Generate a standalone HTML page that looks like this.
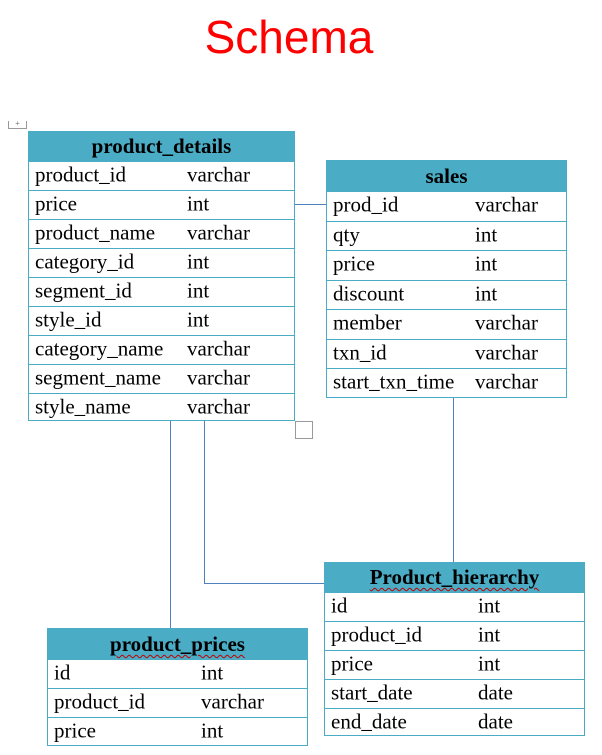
<!DOCTYPE html>
<html><head><meta charset="utf-8"><style>
body{margin:0;width:602px;height:755px;background:#fff;position:relative;overflow:hidden;font-family:"Liberation Serif",serif;}
.t{position:absolute;border:1px solid #4bacc6;box-sizing:border-box;}
.h{background:#4bacc6;text-align:center;font-weight:bold;font-size:21px;color:#000;box-sizing:border-box;border-bottom:1px solid #4bacc6;}
.r{position:relative;border-top:1px solid #4bacc6;box-sizing:border-box;font-size:21px;color:#000;}
.r span{position:absolute;top:50%;transform:translateY(-54%);white-space:nowrap;}
.u{text-decoration:underline wavy #c00000;text-decoration-thickness:1px;text-underline-offset:3px;}
.l{position:absolute;background:#4f81bd;}
</style></head><body>
<div style="position:absolute;left:0;width:602px;top:10px;text-align:center;font-family:'Liberation Sans',sans-serif;font-size:46px;color:#ff0000;"><span style="position:relative;left:-12px">Schema</span></div>
<div style="position:absolute;left:8px;top:121px;width:17px;height:7px;border:1px solid #999;border-top:none;font-size:8px;line-height:6px;text-align:center;color:#555">+</div>
<div style="position:absolute;left:295px;top:421px;width:18px;height:18px;border:1px solid #999;box-sizing:border-box"></div>

<div class="l" style="left:294px;top:204px;width:32px;height:1px"></div>
<div class="l" style="left:453px;top:397px;width:1px;height:165px"></div>
<div class="l" style="left:170px;top:421px;width:1px;height:208px"></div>
<div class="l" style="left:204px;top:421px;width:1px;height:163px"></div>
<div class="l" style="left:204px;top:583px;width:120px;height:1px"></div>

<div class="t" style="left:28px;top:131px;width:267px;height:290px">
<div class="h" style="height:29px;line-height:29px">product_details</div>
<div class="r" style="height:29px"><span style="left:6px">product_id</span><span style="left:158px">varchar</span></div>
<div class="r" style="height:29px"><span style="left:6px">price</span><span style="left:158px">int</span></div>
<div class="r" style="height:29px"><span style="left:6px">product_name</span><span style="left:158px">varchar</span></div>
<div class="r" style="height:29px"><span style="left:6px">category_id</span><span style="left:158px">int</span></div>
<div class="r" style="height:29px"><span style="left:6px">segment_id</span><span style="left:158px">int</span></div>
<div class="r" style="height:29px"><span style="left:6px">style_id</span><span style="left:158px">int</span></div>
<div class="r" style="height:29px"><span style="left:6px">category_name</span><span style="left:158px">varchar</span></div>
<div class="r" style="height:29px"><span style="left:6px">segment_name</span><span style="left:158px">varchar</span></div>
<div class="r" style="height:29px"><span style="left:6px">style_name</span><span style="left:158px">varchar</span></div>
</div>

<div class="t" style="left:326px;top:160px;width:241px;height:238px">
<div class="h" style="height:30px;line-height:30px">sales</div>
<div class="r" style="height:29.5px"><span style="left:6px">prod_id</span><span style="left:148px">varchar</span></div>
<div class="r" style="height:29.5px"><span style="left:6px">qty</span><span style="left:148px">int</span></div>
<div class="r" style="height:29.5px"><span style="left:6px">price</span><span style="left:148px">int</span></div>
<div class="r" style="height:29.5px"><span style="left:6px">discount</span><span style="left:148px">int</span></div>
<div class="r" style="height:29.5px"><span style="left:6px">member</span><span style="left:148px">varchar</span></div>
<div class="r" style="height:29.5px"><span style="left:6px">txn_id</span><span style="left:148px">varchar</span></div>
<div class="r" style="height:29.5px"><span style="left:6px">start_txn_time</span><span style="left:148px">varchar</span></div>
</div>

<div class="t" style="left:324px;top:562px;width:261px;height:174px">
<div class="h" style="height:29px;line-height:29px"><span class="u">Product_hierarchy</span></div>
<div class="r" style="height:29px"><span style="left:6px">id</span><span style="left:153px">int</span></div>
<div class="r" style="height:29px"><span style="left:6px">product_id</span><span style="left:153px">int</span></div>
<div class="r" style="height:29px"><span style="left:6px">price</span><span style="left:153px">int</span></div>
<div class="r" style="height:29px"><span style="left:6px">start_date</span><span style="left:153px">date</span></div>
<div class="r" style="height:29px"><span style="left:6px">end_date</span><span style="left:153px">date</span></div>
</div>

<div class="t" style="left:47px;top:628px;width:261px;height:118px">
<div class="h" style="height:30px;line-height:30px"><span class="u">product_prices</span></div>
<div class="r" style="height:29px"><span style="left:6px">id</span><span style="left:153px">int</span></div>
<div class="r" style="height:29px"><span style="left:6px">product_id</span><span style="left:153px">varchar</span></div>
<div class="r" style="height:29px"><span style="left:6px">price</span><span style="left:153px">int</span></div>
</div>
</body></html>
